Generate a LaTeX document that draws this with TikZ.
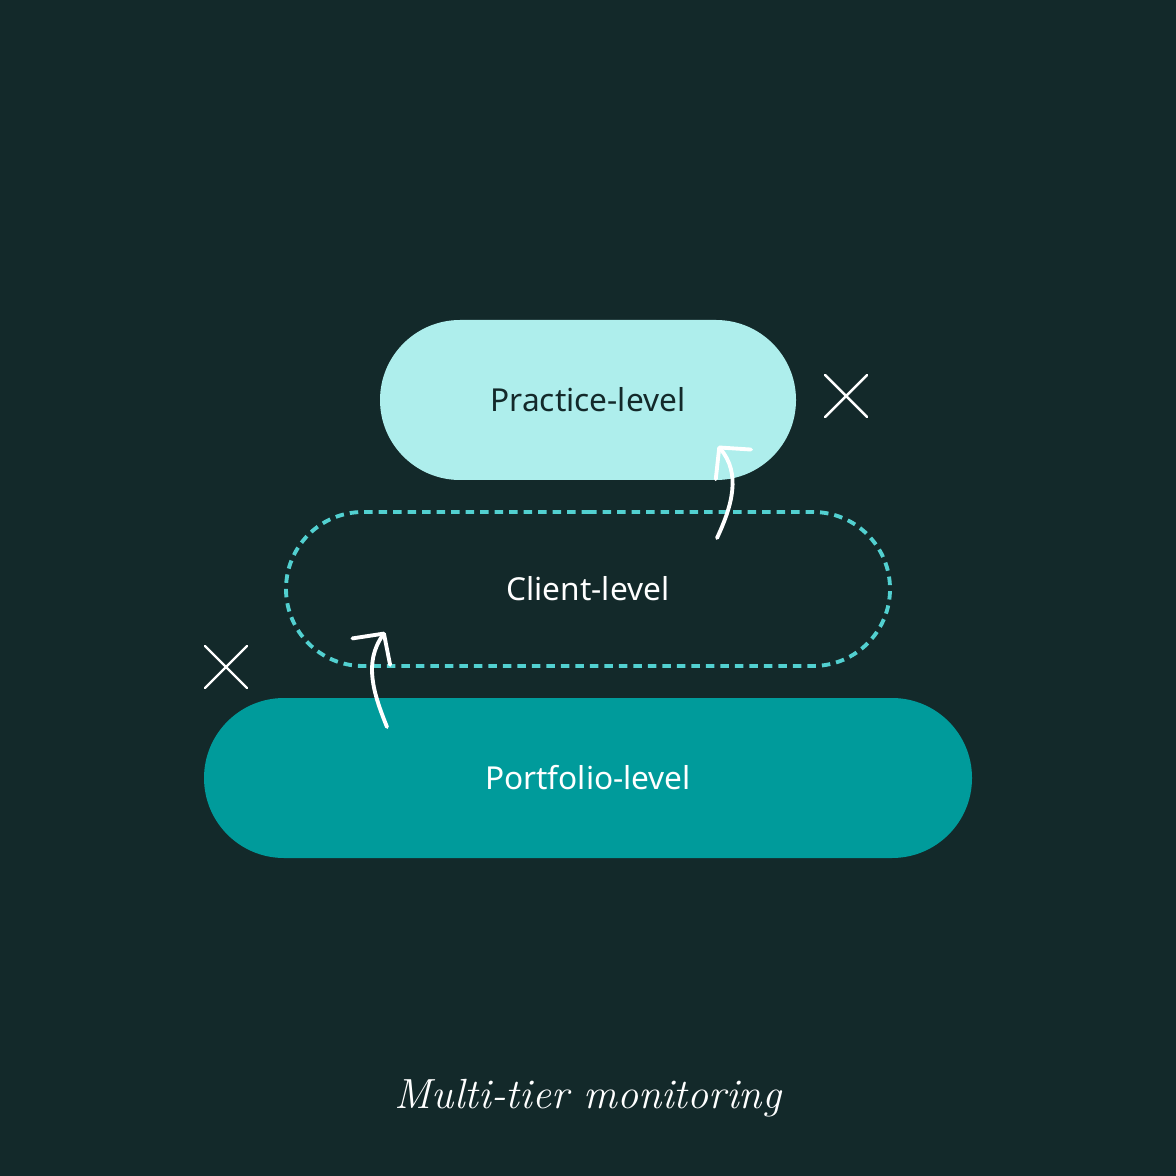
\documentclass[tikz,border=0pt]{standalone}
\usepackage{fontspec}
\newfontfamily\boxfont{Noto Sans}
\usetikzlibrary{arrows.meta, shapes.misc}
\definecolor{nightteal}{RGB}{19,41,42}
\definecolor{paleaqua}{RGB}{174,238,236}
\definecolor{dashaqua}{RGB}{82,208,208}
\definecolor{deepteal}{RGB}{0,155,155}

\begin{document}
\begin{tikzpicture}
  \tikzset{
    pill/.style={rounded rectangle, inner sep=0pt, outer sep=0pt, font=\boxfont\fontsize{9}{11}\selectfont},
    crossmark/.pic={\draw[white, line width=0.7pt, line cap=round] (-0.21,0.21) -- (0.21,-0.21) (0.21,0.21) -- (-0.21,-0.21);},
    chalk/.style={white, line width=1.1pt, line cap=round, -{Straight Barb[length=0.22cm, width=0.46cm, line width=1.1pt, round]}}
  }
  \fill[nightteal] (0,0) rectangle (11.76,-11.76);

  % the three tiers
  \node[pill, fill=paleaqua, text=nightteal, minimum width=4.16cm, minimum height=1.6cm] (practice) at (5.88,-4.00) {Practice-level};
  \node[pill, draw=dashaqua, line width=1.1pt, dash pattern=on 0.085cm off 0.06cm, text=white, minimum width=6.04cm, minimum height=1.54cm] (client) at (5.88,-5.89) {Client-level};
  \node[pill, fill=deepteal, text=white, minimum width=7.68cm, minimum height=1.6cm] (portfolio) at (5.88,-7.78) {Portfolio-level};

  % crosses
  \pic at (8.46,-3.96) {crossmark};
  \pic at (2.26,-6.67) {crossmark};

  % hand-drawn arrows
  \coordinate (up1s) at (3.87,-7.27);
  \coordinate (up1e) at (3.85,-6.32);
  \coordinate (up2s) at (7.17,-5.38);
  \coordinate (up2e) at (7.18,-4.46);
  \draw[chalk] (up1s) to[out=112, in=-125] (up1e);
  \draw[chalk] (up2s) to[out=65, in=-50] (up2e);

  \node[text=white, font=\itshape\fontsize{12}{14}\selectfont] (caption) at (5.88,-10.98) {Multi-tier monitoring};
\end{tikzpicture}
\end{document}
